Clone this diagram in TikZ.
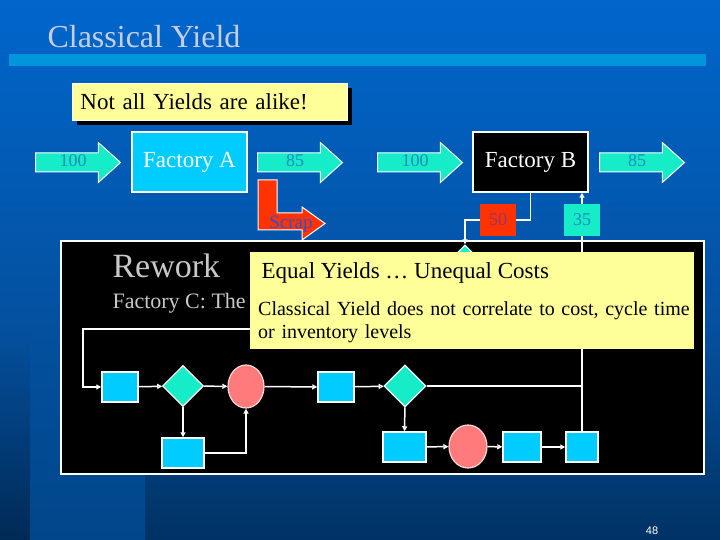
\documentclass[tikz,border=0pt]{standalone}
\usepackage{fontspec}
\setmainfont{Liberation Serif}
\newfontfamily\pagenumfont{Liberation Sans}
\usetikzlibrary{positioning,arrows.meta,shapes.geometric,shapes.arrows}
\definecolor{bgtop}{RGB}{0,102,204}
\definecolor{bgmid}{RGB}{4,80,158}
\definecolor{bgbot}{RGB}{0,50,100}
\definecolor{stripbot}{RGB}{0,70,138}
\definecolor{edgebot}{RGB}{0,42,85}
\definecolor{barblue}{RGB}{0,150,220}
\definecolor{titlegray}{RGB}{196,206,232}
\definecolor{noteyellow}{RGB}{255,255,153}
\definecolor{aqua}{RGB}{22,236,200}
\definecolor{aquatext}{RGB}{30,140,190}
\definecolor{cyanbox}{RGB}{0,204,255}
\definecolor{scrapred}{RGB}{255,51,0}
\definecolor{salmon}{RGB}{255,122,122}
\definecolor{reworkgray}{RGB}{200,200,200}
\definecolor{scrapblue}{RGB}{50,80,205}
\definecolor{fiftytext}{RGB}{150,50,110}
\newcommand{\fsz}[1]{\fontsize{#1}{#1}\selectfont}

\begin{document}
\begin{tikzpicture}[x=1pt,y=-1pt,>={Triangle[length=5pt,width=5pt]},
 flow/.style={draw=white,line width=1.5pt},
 fat/.style={single arrow,draw=white,line width=1pt,fill=aqua,anchor=tail,minimum height=85pt,minimum width=39pt,single arrow head extend=10.5pt,single arrow tip angle=84,inner xsep=0pt,inner ysep=9pt},
 fatlabel/.style={text=aquatext,font=\fsz{18},right=38pt of #1.tail,anchor=center,yshift=1.5pt},
 factory/.style={draw=white,line width=1.5pt,minimum width=115pt,minimum height=60pt,text=white,font=\fsz{23}},
 proc/.style={draw=white,line width=1.5pt,fill=cyanbox,minimum height=30pt,inner sep=0pt},
 dec/.style={diamond,draw=white,line width=1.2pt,fill=aqua,inner sep=0pt,aspect=1},
 wait/.style={ellipse,draw=white!70!salmon,line width=1.2pt,fill=salmon,inner sep=0pt},
 tag/.style={minimum width=36pt,minimum height=32pt,inner sep=0pt,font=\fsz{18}}]
% background
\useasboundingbox (0,0) rectangle (720,540);
\shade[top color=bgtop,bottom color=bgmid] (0,0) rectangle (720,330);
\shade[top color=bgmid,bottom color=bgbot] (0,330) rectangle (720,540);
\shade[top color=bgmid,bottom color=stripbot] (30,330) rectangle (145,540);
\shade[top color=bgmid,bottom color=edgebot] (0,330) rectangle (30,540);
% title
\node[anchor=base west,text=titlegray,font=\fsz{32}] (title) at (44,48) {Classical Yield};
\fill[barblue] (9,54) rectangle (706,66);
\fill[black] (77,88) rectangle (352,125);
\node[draw=white,line width=.8pt,fill=noteyellow,anchor=north west,minimum width=275pt,minimum height=37pt,text width=259pt,inner xsep=8pt,font=\fsz{23}] (alike) at (72,83) {Not all Yields are alike!};
% rework frame
\node[draw=white,line width=2pt,fill=black,anchor=north west,minimum width=643pt,minimum height=233pt] (rework) at (60,240) {};
\node[anchor=base west,text=reworkgray,font=\fsz{34}] (reworktitle) at (109,277) {Rework};
\node[anchor=base west,text=reworkgray,font=\fsz{22}] (factoryc) at (109,308) {Factory C: The};
% factories
\node[fat] (in1) at (35,162.5) {}; \node[fatlabel=in1] (in1val) {100};
\node[factory,fill=cyanbox] (fa) at (189.5,162) {Factory A};
\node[fat] (out1) at (257,162.5) {}; \node[fatlabel=out1] (out1val) {85};
\node[fat] (in2) at (377,162.5) {}; \node[fatlabel=in2] (in2val) {100};
\node[factory,fill=black] (fb) at (530.5,162) {Factory B};
\node[fat] (out2) at (599,162.5) {}; \node[fatlabel=out2] (out2val) {85};
\draw[white,line width=1pt,fill=scrapred] (258,180) -- (277,180) -- (277,213) -- (302,213) -- (302,207) -- (325,223.5) -- (302,240) -- (302,230) -- (258,230) -- cycle;
\node[text=scrapblue,font=\fsz{19}] (scrap) at (291,224) {Scrap};
\node[tag,fill=scrapred,text=fiftytext] (n50) at (498,220) {50}; \node[tag,fill=aqua,text=aquatext] (n35) at (582,220) {35};
% rework flow
\node[proc,minimum width=36pt] (p1) at (120,387) {}; \node[dec,minimum size=41pt] (d1) at (183,386) {}; \node[wait,minimum width=36pt,minimum height=43pt] (w1) at (246,386.5) {};
\node[proc,minimum width=42pt] (p2) at (183,453) {}; \node[proc,minimum width=36pt] (p3) at (336,387) {}; \node[dec,minimum size=42pt] (d2) at (405,386) {};
\node[proc,minimum width=43pt] (p4) at (404.5,447) {}; \node[wait,minimum width=38pt,minimum height=43pt] (w2) at (468,446.5) {};
\node[proc,minimum width=38pt] (p5) at (522,447) {}; \node[proc,minimum width=32pt] (p6) at (582,447) {}; \node[dec,minimum size=42pt] (d0) at (465,266) {};
\coordinate (loopR) at (582,329); \coordinate (loopL) at (83,329);
\path[flow,->] (p1) edge (d1) (d1) edge (w1) (w1) edge (p3) (p3) edge (d2) (d1) edge (p2)
 (d2) edge (p4) (p4) edge (w2) (w2) edge (p5) (p5) edge (p6);
\draw[flow,->] (p2.east) -| (w1.south);
\draw[flow,->] (loopR) -- (loopL) |- (p1.west);
\draw[flow] (d2.east) -- (d2.east -| p6.north);
\draw[flow] (p6.north) -- (n35.south);
\draw[flow,->] (n35.north) -- (n35.north |- fb.south);
\draw[flow] (fb.south) |- (n50.east);
\draw[flow,->] (n50.west) -| (d0.north);
% costs note
\node[fill=noteyellow,anchor=north west,minimum width=444pt,minimum height=97pt] (costs) at (250,252) {};
\node[anchor=base west,font=\fsz{23}] (coststitle) at (258,278) {Equal Yields … Unequal Costs};
\node[anchor=base west,align=left,font=\fontsize{20}{23}\selectfont,text width=436pt,inner sep=0pt] (costsnote) at (258,315) {Classical Yield does not correlate to cost, cycle time\\or inventory levels};
\node[text=white,font=\pagenumfont\fsz{11}] (pagenum) at (652,531) {48};
\end{tikzpicture}
\end{document}
